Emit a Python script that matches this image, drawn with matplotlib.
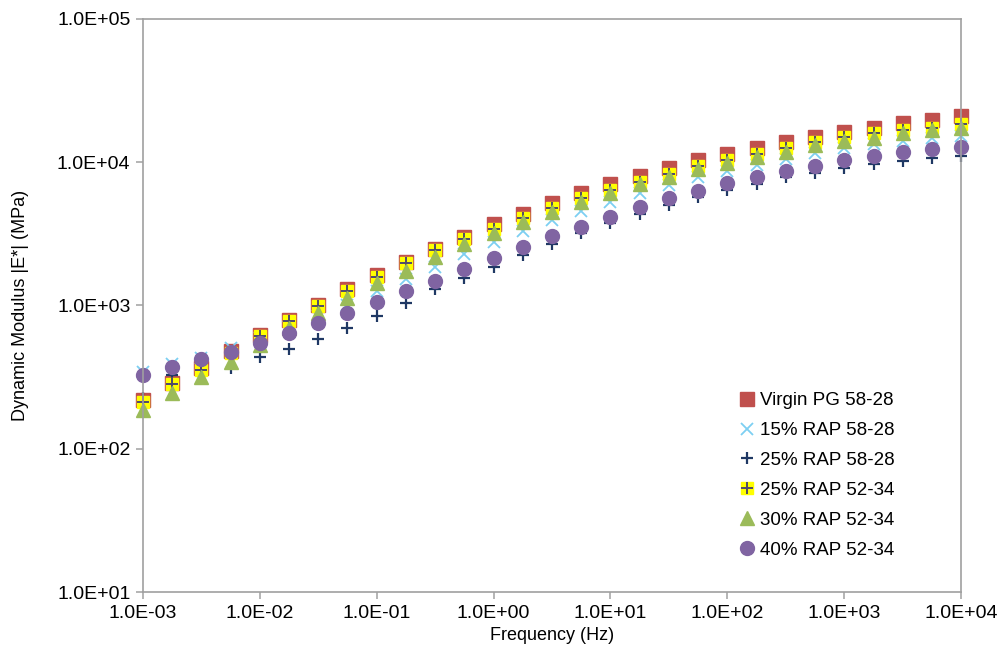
import matplotlib.pyplot as plt
from matplotlib.legend_handler import HandlerTuple
from matplotlib.ticker import FixedLocator, NullLocator

plt.rcParams['font.family'] = ['Liberation Sans', 'DejaVu Sans']

freq = [0.001, 0.00178, 0.00316, 0.00562,
        0.01, 0.0178, 0.0316, 0.0562,
        0.1, 0.178, 0.316, 0.562,
        1.0, 1.78, 3.16, 5.62,
        10, 17.8, 31.6, 56.2,
        100, 178, 316, 562,
        1000, 1780, 3160, 5620,
        10000]

virgin_5828 = [219, 286, 366, 481, 619, 792, 1013, 1298, 1625, 2012,
               2492, 3022, 3688, 4374, 5168, 6071, 7018, 8017, 9073, 10318,
               11473, 12638, 13850, 15081, 16340, 17430, 18705, 19630, 20930]
rap15_5828 = [343, 389, 432, 505, 593, 708, 845, 1008, 1269, 1524,
              1866, 2288, 2789, 3313, 3953, 4590, 5304, 6130, 6939, 7850,
              8686, 9568, 10486, 11548, 12638, 13346, 14072, 14697, 15323]
rap25_5828 = [225, 327, 349, 369, 435, 497, 584, 700, 845, 1041,
              1304, 1549, 1866, 2252, 2688, 3192, 3748, 4352, 5030, 5692,
              6402, 7052, 7850, 8373, 9163, 9676, 10202, 10656, 11108]
rap25_5234 = [213, 283, 355, 464, 613, 780, 992, 1269, 1589, 1990,
              2440, 2913, 3404, 4062, 4770, 5602, 6402, 7316, 8279, 9415,
              10368, 11418, 12515, 13917, 15081, 15926, 16795, 17430, 18406]
rap30_5234 = [186, 244, 315, 405, 530, 697, 886, 1123, 1429, 1750,
              2170, 2688, 3223, 3846, 4516, 5253, 6071, 7018, 7926, 8930,
              9929, 10931, 11846, 13196, 14072, 14840, 15926, 16795, 17430]
rap40_5234 = [327, 370, 421, 476, 550, 639, 751, 891, 1063, 1256,
              1490, 1798, 2135, 2549, 3057, 3549, 4169, 4848, 5602, 6330,
              7132, 7850, 8730, 9461, 10368, 11055, 11735, 12375, 12843]

labels = ['Virgin PG 58-28', '15% RAP 58-28', '25% RAP 58-28',
          '25% RAP 52-34', '30% RAP 52-34', '40% RAP 52-34']
xticks = [1e-3, 1e-2, 1e-1, 1e0, 1e1, 1e2, 1e3, 1e4]
xtick_labels = ['1.0E-03', '1.0E-02', '1.0E-01', '1.0E+00',
                '1.0E+01', '1.0E+02', '1.0E+03', '1.0E+04']
yticks = [1e1, 1e2, 1e3, 1e4, 1e5]
ytick_labels = ['1.0E+01', '1.0E+02', '1.0E+03', '1.0E+04', '1.0E+05']

fig = plt.figure(figsize=(9.99, 6.52), dpi=100)
ax = fig.add_axes([0.1431, 0.092, 0.819, 0.8789])

h1, = ax.plot(freq, virgin_5828, 's', color='#C0504D', ms=9.5, mec='#C0504D', ls='none', clip_on=False)
h2, = ax.plot(freq, rap15_5828, 'x', color='#7DCFF2', ms=8.5, mew=1.3, ls='none', clip_on=False)
h3, = ax.plot(freq, rap25_5828, '+', color='#1F3864', ms=9, mew=1.6, ls='none', clip_on=False)
h4a, = ax.plot(freq, rap25_5234, 's', color='#FFFF00', ms=8.5, mec='#FFFF00', ls='none', clip_on=False)
h4b, = ax.plot(freq, rap25_5234, '+', color='#4F4A6B', ms=8, mew=1.4, ls='none', clip_on=False)
h5, = ax.plot(freq, rap30_5234, '^', color='#9BBB59', ms=9.5, mec='#9BBB59', ls='none', clip_on=False)
h6, = ax.plot(freq, rap40_5234, 'o', color='#8064A2', ms=10, mec='#8064A2', ls='none', clip_on=False)

ax.set_xscale('log')
ax.set_yscale('log')
ax.set_xlim(1e-3, 1e4)
ax.set_ylim(1e1, 1e5)

ax.xaxis.set_major_locator(FixedLocator(xticks))
ax.xaxis.set_minor_locator(NullLocator())
ax.set_xticklabels(xtick_labels)
ax.yaxis.set_major_locator(FixedLocator(yticks))
ax.yaxis.set_minor_locator(NullLocator())
ax.set_yticklabels(ytick_labels)

for s in ax.spines.values():
    s.set_color('#A0A0A0')
    s.set_linewidth(1.2)
ax.tick_params(axis='both', direction='out', length=5, width=1.1, color='#A0A0A0',
               labelsize=14, labelcolor='#000000', pad=4)

ax.set_xlabel('Frequency (Hz)', fontsize=13, labelpad=4)
ax.set_ylabel('Dynamic Modulus |E*| (MPa)', fontsize=13, labelpad=20)

ax.legend([h1, h2, h3, (h4a, h4b), h5, h6], labels,
          handler_map={tuple: HandlerTuple(ndivide=1, pad=0)},
          loc='upper left', bbox_to_anchor=(0.72, 0.362), frameon=False,
          fontsize=13.5, handlelength=0.8, handletextpad=0.3,
          labelspacing=0.68, borderaxespad=0)

fig.savefig('out.png', dpi=100)
